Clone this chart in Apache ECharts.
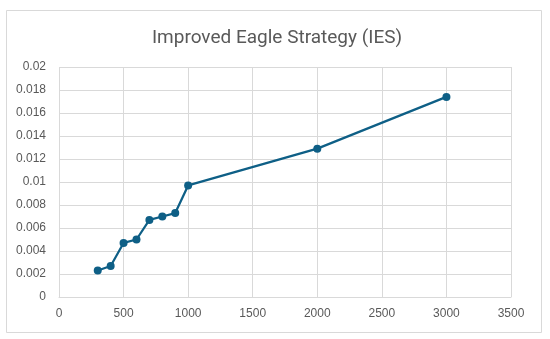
<!DOCTYPE html>
<html>
<head>
<meta charset="utf-8">
<script src="https://cdn.jsdelivr.net/npm/echarts@6/dist/echarts.min.js"></script>
<style>html,body{margin:0;padding:0;background:#fff;}#c{width:550px;height:339px;}</style>
</head>
<body>
<div id="c"></div>
<script>
const titleText = 'Improved Eagle Strategy (IES)';
const xValues = [300, 400, 500, 600, 700, 800, 900, 1000, 2000, 3000];
const yValues = [0.0023, 0.0027, 0.0047, 0.0050, 0.0067, 0.0070, 0.0073, 0.0097, 0.0129, 0.0174];

const chart = echarts.init(document.getElementById('c'), null, {renderer: 'canvas'});
const grey = '#595959';
const gridCol = '#d9d9d9';
chart.setOption({
  animation: false,
  backgroundColor: '#fff',
  graphic: [{
    type: 'rect', left: 6, top: 10, z: -1,
    shape: {width: 535, height: 322},
    style: {fill: '#fff', stroke: gridCol, lineWidth: 1}
  }],
  title: {
    text: titleText, left: 272, top: 24, textAlign: 'center',
    textStyle: {fontFamily: 'Roboto', fontWeight: 'normal', fontSize: 19, color: grey}
  },
  grid: {left: 59, right: 39, top: 67, bottom: 42, containLabel: false},
  xAxis: {
    type: 'value', min: 0, max: 3500, interval: 500,
    axisLine: {show: true, lineStyle: {color: gridCol}},
    axisTick: {show: false},
    splitLine: {show: true, lineStyle: {color: gridCol}},
    axisLabel: {color: grey, fontSize: 12, fontFamily: 'Liberation Sans', margin: 11,
      formatter: v => String(v)}
  },
  yAxis: {
    type: 'value', min: 0, max: 0.02, interval: 0.002,
    axisLine: {show: false},
    axisTick: {show: false},
    splitLine: {show: true, lineStyle: {color: gridCol}},
    axisLabel: {color: grey, fontSize: 12, fontFamily: 'Liberation Sans', margin: 13,
      formatter: v => String(parseFloat(v.toFixed(4)))}
  },
  series: [{
    type: 'line',
    data: xValues.map((x, i) => [x, yValues[i]]),
    symbol: 'circle', symbolSize: 8,
    lineStyle: {color: '#0e5f86', width: 2.25},
    itemStyle: {color: '#0e5f86'}
  }]
});
</script>
</body>
</html>
